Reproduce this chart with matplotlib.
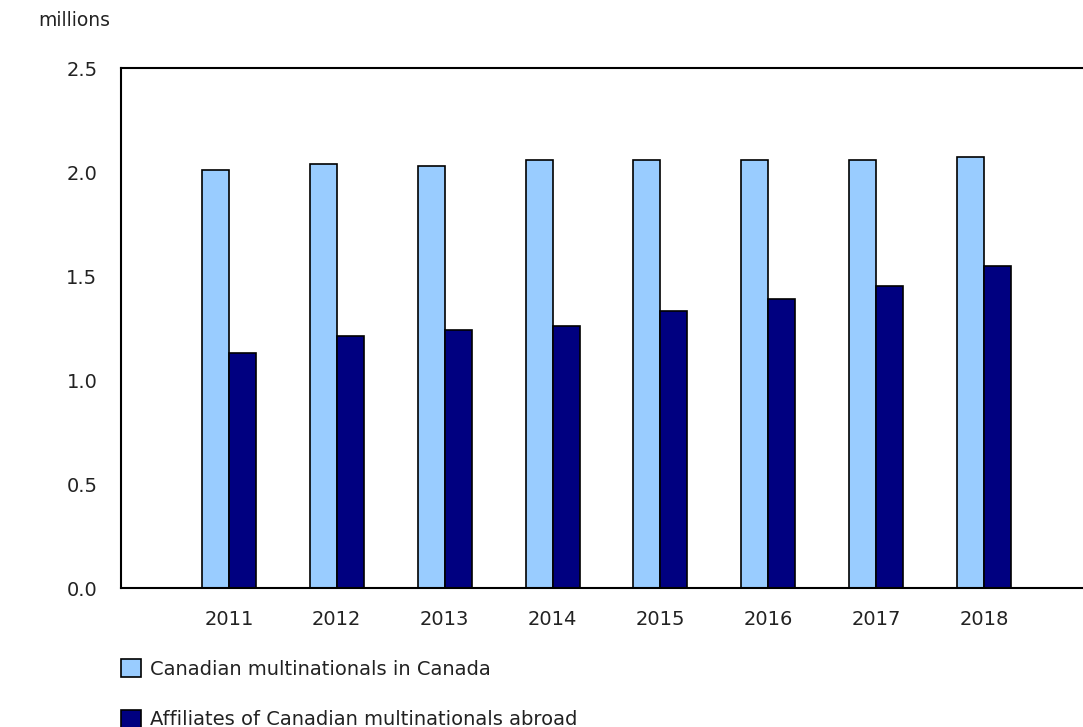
import matplotlib
matplotlib.use("Agg")
import matplotlib.pyplot as plt
import numpy as np

years = ["2011", "2012", "2013", "2014", "2015", "2016", "2017", "2018"]
in_canada = [2.01, 2.04, 2.03, 2.06, 2.06, 2.06, 2.06, 2.07]
abroad = [1.13, 1.21, 1.24, 1.26, 1.33, 1.39, 1.45, 1.55]
series_labels = ["Canadian multinationals in Canada",
                 "Affiliates of Canadian multinationals abroad"]
y_ticks = [0.0, 0.5, 1.0, 1.5, 2.0, 2.5]

light = "#99CCFF"
dark = "#000080"

plt.rcParams["font.family"] = ["DejaVu Sans"]
plt.rcParams["font.size"] = 14

W, H = 1083, 727
fig = plt.figure(figsize=(W / 100, H / 100), dpi=100)
ax = fig.add_axes([121 / W, 139 / H, (1092 - 121) / W, 520 / H])

x = np.arange(len(years))
w = 0.25
ax.bar(x - w / 2, in_canada, width=w, color=light, edgecolor="black", linewidth=1.2,
       label=series_labels[0])
ax.bar(x + w / 2, abroad, width=w, color=dark, edgecolor="black", linewidth=1.2,
       label=series_labels[1])

ax.set_xlim(-1, 8)
ax.set_ylim(0, 2.5)
ax.set_xticks(x)
ax.set_xticklabels(years)
ax.set_yticks(y_ticks)
ax.set_yticklabels([f"{v:.1f}" for v in y_ticks])
ax.tick_params(length=0, pad=17, labelcolor="#222222", labelsize=14)
ax.tick_params(axis="x", pad=16)
for side in ["left", "bottom", "top"]:
    ax.spines[side].set_linewidth(1.5)
ax.spines["right"].set_visible(False)

fig.text(38 / W, 1 - 20 / H, "millions", ha="left", va="center", fontsize=13.5, color="#222222")

handles, labels = ax.get_legend_handles_labels()
fig.legend(handles, labels, loc="upper left", bbox_to_anchor=(121 / W, 1 - 659 / H),
           frameon=False, borderpad=0, borderaxespad=0,
           handlelength=1.05, handleheight=1.05, handletextpad=0.45,
           labelspacing=1.6, fontsize=14, labelcolor="#222222")

fig.savefig("out.png", dpi=100)
